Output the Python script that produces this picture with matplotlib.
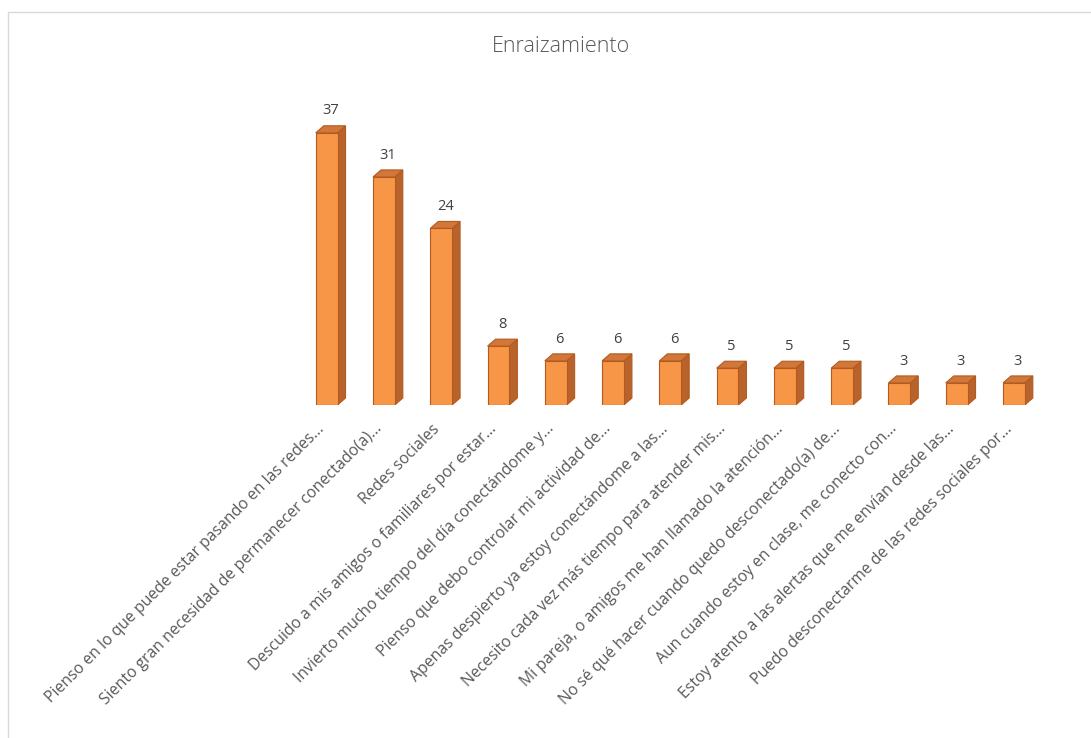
import matplotlib.pyplot as plt
from matplotlib.patches import Polygon, Rectangle
from matplotlib.transforms import ScaledTranslation

# data
categorias = [
    "Pienso en lo que puede estar pasando en las redes...",
    "Siento gran necesidad de permanecer conectado(a)...",
    "Redes sociales",
    "Descuido a mis amigos o familiares por estar...",
    "Invierto mucho tiempo del día conectándome y...",
    "Pienso que debo controlar mi actividad de...",
    "Apenas despierto ya estoy conectándome a las...",
    "Necesito cada vez más tiempo para atender mis...",
    "Mi pareja, o amigos me han llamado la atención...",
    "No sé qué hacer cuando quedo desconectado(a) de...",
    "Aun cuando estoy en clase, me conecto con...",
    "Estoy atento a las alertas que me envían desde las...",
    "Puedo desconectarme de las redes sociales por...",
]
valores = [37, 31, 24, 8, 6, 6, 6, 5, 5, 5, 3, 3, 3]
titulo = "Enraizamiento"

W, H = 1091, 738
fig = plt.figure(figsize=(W / 100, H / 100), dpi=100)
plt.rcParams['font.family'] = ['Open Sans', 'DejaVu Sans']

# chart frame
fig.patches.append(Rectangle((8 / W, -0.1), 1.2, (H - 12) / H + 0.1,
                             transform=fig.transFigure, fill=False,
                             edgecolor='#d9d9d9', lw=1.0))

ax = fig.add_axes([298 / W, 333 / H, 756 / W, 309 / H])
ax.set_xlim(-0.5, 12.7)
ax.set_ylim(0, 42)

ancho = 0.38
dx, dy = 0.14, 0.95          # 3d depth in data units
frente = '#f79646'
lado = '#b8632b'
arriba = '#d2773a'
borde = '#b35a1f'

for i, v in enumerate(valores):
    x0 = i - ancho / 2
    x1 = i + ancho / 2
    ax.bar(i, v, width=ancho, color=frente, edgecolor=borde, lw=0.8, zorder=3)
    ax.add_patch(Polygon([(x1, 0), (x1 + dx, dy), (x1 + dx, v + dy), (x1, v)],
                         closed=True, facecolor=lado, edgecolor=borde, lw=0.8, zorder=2))
    ax.add_patch(Polygon([(x0, v), (x0 + dx, v + dy), (x1 + dx, v + dy), (x1, v)],
                         closed=True, facecolor=arriba, edgecolor=borde, lw=0.8, zorder=2))
    ax.text(i + dx / 2, v + dy + 1.0, str(v), ha='center', va='bottom',
            fontsize=10.5, color='#404040')

ax.set_xticks(range(len(categorias)))
ax.set_xticklabels(categorias, rotation=45, ha='right', rotation_mode='anchor',
                   fontsize=11.3, color='#595959')
ax.tick_params(axis='x', length=0, pad=10)
shift = ScaledTranslation(-10 / 100, -2 / 100, fig.dpi_scale_trans)
for lbl in ax.get_xticklabels():
    lbl.set_transform(lbl.get_transform() + shift)
ax.set_yticks([])
for s in ax.spines.values():
    s.set_visible(False)
ax.patch.set_alpha(0)

fig.text(561 / W, 1 - 47 / H, titulo, ha='center', va='center',
         fontsize=15.5, color='#595959', fontweight='light')

fig.savefig('out.png', dpi=100)
